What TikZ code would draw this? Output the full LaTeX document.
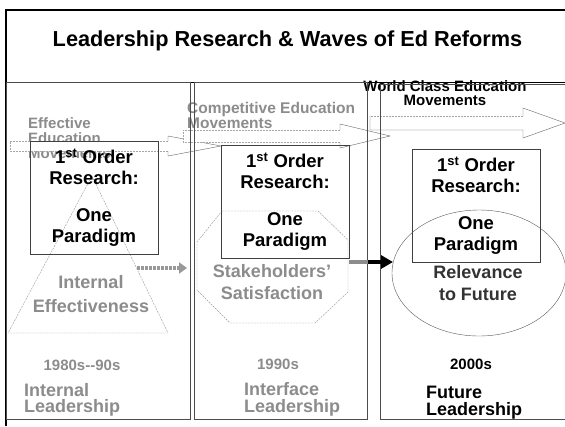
\documentclass[tikz,border=0pt]{standalone}
\usepackage{fontspec}
\setmainfont{Liberation Sans}
\usetikzlibrary{arrows.meta}

\tikzset{
  faded/.style={text=black!45},
  heading/.style={font=\bfseries\fontsize{21.7}{26}\selectfont, anchor=base},
  wave/.style={font=\bfseries\fontsize{15}{15}\selectfont, align=left, anchor=west, inner sep=0pt},
  resbox/.style={draw=black!75, minimum width=128pt, minimum height=113pt, align=center, font=\bfseries\fontsize{18.5}{21}\selectfont},
  focus/.style={font=\bfseries\fontsize{18}{22}\selectfont, align=center, inner sep=0pt},
  era/.style={font=\bfseries\fontsize{15}{18}\selectfont, inner sep=0pt},
  lead/.style={font=\bfseries\fontsize{18}{16.5}\selectfont, align=left, anchor=west, inner sep=0pt},
  shaft/.style={draw=black!35, dash pattern=on 2pt off 1pt},
  head/.style={draw=black!60},
  col/.style={draw=black!70, line width=0.7pt},
}

\begin{document}
\begin{tikzpicture}[x=1pt, y=-1pt]
\useasboundingbox (0,0) rectangle (565,426);
\fill[white] (0,0) rectangle (565,426);

 % frame and title
  \draw[line width=2.5pt] (6,426) -- (6,10) -- (565,10);
  \draw[line width=1pt] (6,82) -- (565,82);
\node[heading] (title) at (287.5,46.7) {Leadership Research \& Waves of Ed Reforms};

  % waves of reforms
\node[wave, faded] (effmov) at (28,138) {Effective\\Education\\Movements};
\node[wave, faded, font=\bfseries\fontsize{15.5}{15}\selectfont] (compmov) at (187,115) {Competitive Education\\Movements};
\node[wave, anchor=center, align=center, font=\bfseries\fontsize{15}{13.5}\selectfont] (worldmov) at (445,93) {World Class Education\\Movements};

\fill[white] (10,141) -- (168,141) -- (168,136) -- (221,146) -- (168,156) -- (168,151) -- (10,151) -- cycle;
\draw[shaft] (168,141) -- (10,141) -- (10,151) -- (168,151);
\draw[head] (168,141) -- (168,136) -- (221,146) -- (168,156) -- (168,151);

\fill[white] (183,130) -- (340,130) -- (340,124) -- (390,136) -- (340,148) -- (340,142) -- (183,142) -- cycle;
\draw[shaft] (340,130) -- (183,130) -- (183,142) -- (340,142);
\draw[head] (340,130) -- (340,124) -- (390,136) -- (340,148) -- (340,142);

\fill[white] (370,116) -- (523,116) -- (523,108) -- (565,123) -- (523,138) -- (523,130) -- (370,130) -- cycle;
\draw[shaft] (523,116) -- (370,116);
\draw[head] (523,116) -- (523,108) -- (565,123) -- (523,138) -- (523,130) -- (370,130) -- (370,116);

  % columns
\draw[col] (6,82) rectangle (190,419);
\draw[col] (194,82) rectangle (367,419);
\draw[col] (380,84) rectangle (600,419);

  % shapes
\draw[draw=black!40, dash pattern=on 2pt off 1pt] (92,176) -- (168,333) -- (8,333) -- cycle;
\draw[draw=black!40, dash pattern=on 2pt off 1pt] (222,211) -- (318,211) -- (348,240) -- (348,292) -- (315,323) -- (230,323) -- (197,290) -- (197,242) -- cycle;
\draw[draw=black!65] (479,273) ellipse [x radius=87, y radius=63];
\node[focus, faded, font=\bfseries\fontsize{18}{24}\selectfont] (inteff) at (91,294) {Internal\\Effectiveness};
\node[focus, faded] (stake) at (272,282) {Stakeholders’\\Satisfaction};
\node[focus, text=black!80] (relev) at (478,283) {Relevance\\to Future};

\coordinate (tri e) at (137,268);
\coordinate (oct w) at (197,268);
\coordinate (oct e) at (349,262);
\coordinate (col edge) at (368,262);
\coordinate (ell w) at (393,262);

  % research boxes
\node[resbox] (res1) at (94,197.5) {1\textsuperscript{st} Order\\Research:\\[16pt]One\\Paradigm};
\node[resbox] (res2) at (285,202) {1\textsuperscript{st} Order\\Research:\\[16pt]One\\Paradigm};
\node[resbox] (res3) at (476,205.5) {1\textsuperscript{st} Order\\Research:\\[16pt]One\\Paradigm};

  % shifts
\draw[black!40, line width=4pt, dash pattern=on 3pt off 1pt, shorten >=10pt, -{Triangle[length=8pt, width=11pt]}] (tri e) -- (oct w);
\draw[black!45, line width=4pt] (oct e) -- (col edge);
\draw[black, line width=4pt, -{Triangle[length=12pt, width=13pt]}] (col edge) -- (ell w);

  % eras
\node[era, faded] (era1) at (82,365) {1980s-{}-90s};
\node[era, faded] (era2) at (278,364) {1990s};
\node[era] (era3) at (471,364) {2000s};

\node[lead, faded] (lead1) at (24,400) {Internal\\Leadership};
\node[lead, faded] (lead2) at (244,399.5) {Interface\\Leadership};
\node[lead] (lead3) at (426,402.5) {Future\\Leadership};
\end{tikzpicture}
\end{document}
